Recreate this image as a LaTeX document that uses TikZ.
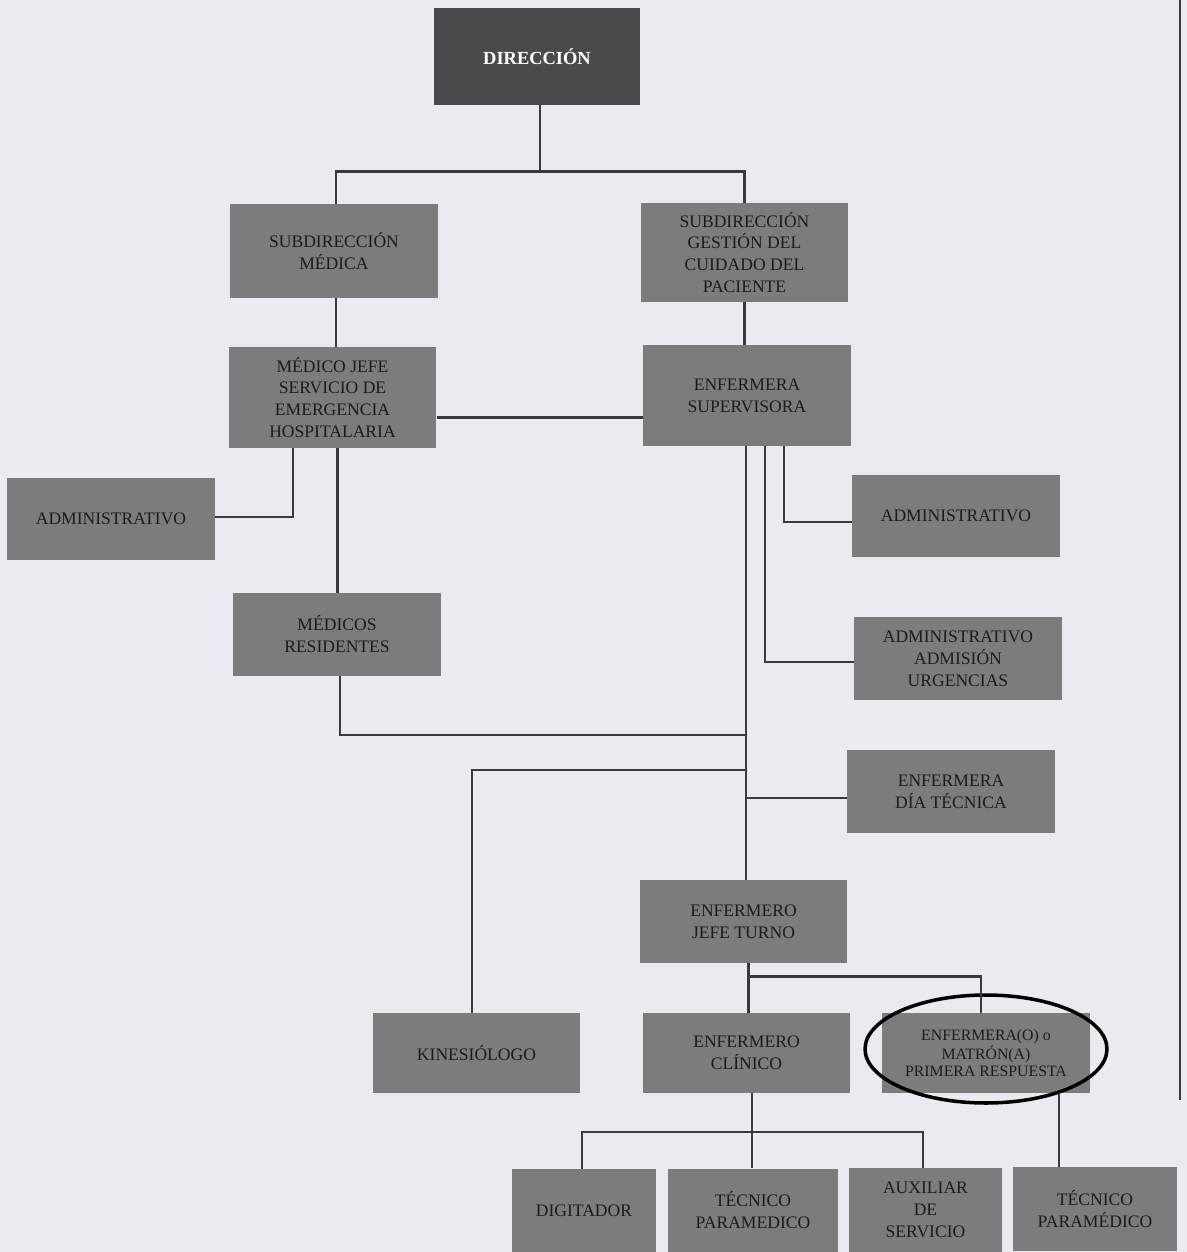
\documentclass[tikz,border=0pt]{standalone}
\usepackage{fontspec}
\setmainfont{Liberation Serif}
\usetikzlibrary{shapes.geometric}
\definecolor{fondo}{RGB}{237,233,240}
\definecolor{caja}{RGB}{124,123,126}
\definecolor{cajaosc}{RGB}{74,73,78}
\definecolor{trazo}{RGB}{58,57,62}
\definecolor{letra}{RGB}{28,28,30}
\tikzset{
  cargo/.style={fill=caja, text=letra, align=center, inner sep=2pt,
    font=\fontsize{10}{12.5}\selectfont, minimum width=4.16cm, minimum height=1.64cm},
  enlace/.style={draw=trazo, line width=1.6pt},
}
\begin{document}
\begin{tikzpicture}[x=0.02cm,y=-0.02cm]
\fill[fondo] (0,0) rectangle (1187,1252);
\useasboundingbox (0,0) rectangle (1187,1252);
\draw[trazo, line width=0.8pt] (1180,0) -- (1180,1100);
\node[cargo, fill=cajaosc, text=white, font=\bfseries\fontsize{10.5}{12}\selectfont, minimum width=4.12cm, minimum height=1.94cm] (dir) at (537,56.5) {DIRECCIÓN};
\node[cargo, minimum height=1.88cm] (submed) at (334,251) {SUBDIRECCIÓN\\MÉDICA};
\node[cargo, minimum height=1.98cm] (subgest) at (744.5,252.5) {SUBDIRECCIÓN\\GESTIÓN DEL\\CUIDADO DEL\\PACIENTE};
\node[cargo, minimum height=2.02cm] (mj) at (332.5,397.5) {MÉDICO JEFE\\SERVICIO DE\\EMERGENCIA\\HOSPITALARIA};
\node[cargo, minimum height=2.02cm] (es) at (747,395.5) {ENFERMERA\\SUPERVISORA};
\node[cargo] (admL) at (111,519) {ADMINISTRATIVO};
\node[cargo, minimum height=1.66cm] (mr) at (337,634.5) {MÉDICOS\\RESIDENTES};
\node[cargo] (admR) at (956,516) {ADMINISTRATIVO};
\node[cargo, minimum height=1.66cm] (admadm) at (958,658.5) {ADMINISTRATIVO\\ADMISIÓN\\URGENCIAS};
\node[cargo, minimum height=1.66cm] (edt) at (951,791.5) {ENFERMERA\\DÍA TÉCNICA};
\node[cargo, minimum height=1.66cm] (ejt) at (743.5,921.5) {ENFERMERO\\JEFE TURNO};
\node[cargo, minimum height=1.6cm] (kine) at (476.5,1053) {KINESIÓLOGO};
\node[cargo, minimum height=1.6cm] (ec) at (746.5,1053) {ENFERMERO\\CLÍNICO};
\node[cargo, minimum height=1.6cm, font=\fontsize{9}{9.4}\selectfont] (epr) at (986,1053) {ENFERMERA(O) o\\MATRÓN(A)\\PRIMERA RESPUESTA};
\node[cargo, minimum width=2.88cm, minimum height=1.68cm] (dig) at (584,1211) {DIGITADOR};
\node[cargo, minimum width=3.4cm, minimum height=1.68cm] (tp) at (753,1210.5) {TÉCNICO\\PARAMEDICO};
\node[cargo, minimum width=3.06cm, minimum height=1.68cm] (aux) at (925.5,1210) {AUXILIAR\\DE\\SERVICIO};
\node[cargo, minimum width=3.28cm, minimum height=1.68cm] (tp2) at (1095,1209) {TÉCNICO\\PARAMÉDICO};
\node[draw=black, ellipse, line width=2pt, inner sep=0pt, minimum width=4.84cm, minimum height=2.16cm] (marca) at (986,1049) {};
\coordinate (c1) at (746,735);
\coordinate (c2) at (746,770);
\coordinate (c3) at (746,798);
\coordinate (c4) at (752,1132);
\path[enlace] ([xshift=0.06cm]dir.south) -- ++(0,66) -| ([xshift=0.04cm]submed.north);
\path[enlace] ([xshift=0.06cm]dir.south) -- ++(0,66) -| (subgest.north);
\path[enlace] ([xshift=0.04cm]submed.south) -- ([xshift=0.04cm]submed.south |- mj.north);
\path[enlace] (subgest.south) -- (subgest.south |- es.north);
\path[enlace] ([yshift=-0.4cm]mj.east) -- ([yshift=-0.4cm]mj.east -| es.west);
\path[enlace] ([xshift=-0.79cm]mj.south) |- ([yshift=0.04cm]admL.east);
\path[enlace] ([xshift=0.1cm]mj.south) -- ([xshift=0.1cm]mj.south |- mr.north);
\path[enlace] ([xshift=0.06cm]mr.south) |- (c1);
\path[enlace] ([xshift=-0.02cm]es.south) -- ([xshift=-0.02cm]es.south |- ejt.north);
\path[enlace] ([xshift=0.36cm]es.south) |- ([yshift=-0.07cm]admadm.west);
\path[enlace] ([xshift=0.74cm]es.south) |- ([yshift=-0.12cm]admR.west);
\path[enlace] (c2) -| ([xshift=-0.09cm]kine.north);
\path[enlace] (c3) -- (c3 -| edt.west);
\path[enlace] ([xshift=0.1cm]ejt.south) -- ([xshift=0.1cm]ejt.south |- ec.north);
\path[enlace] ([xshift=0.1cm]ejt.south) -- ++(0,13) -| ([xshift=-0.1cm]epr.north);
\path[enlace] (ec.south -| c4) -- (c4);
\path[enlace] (c4) -| ([xshift=-0.04cm]dig.north);
\path[enlace] (c4) -| ([xshift=-0.05cm]aux.north);
\path[enlace] (c4) -- (c4 |- tp.north);
\path[enlace] ([xshift=1.46cm]epr.south) -- ([xshift=1.46cm]epr.south |- tp2.north);
\end{tikzpicture}
\end{document}
